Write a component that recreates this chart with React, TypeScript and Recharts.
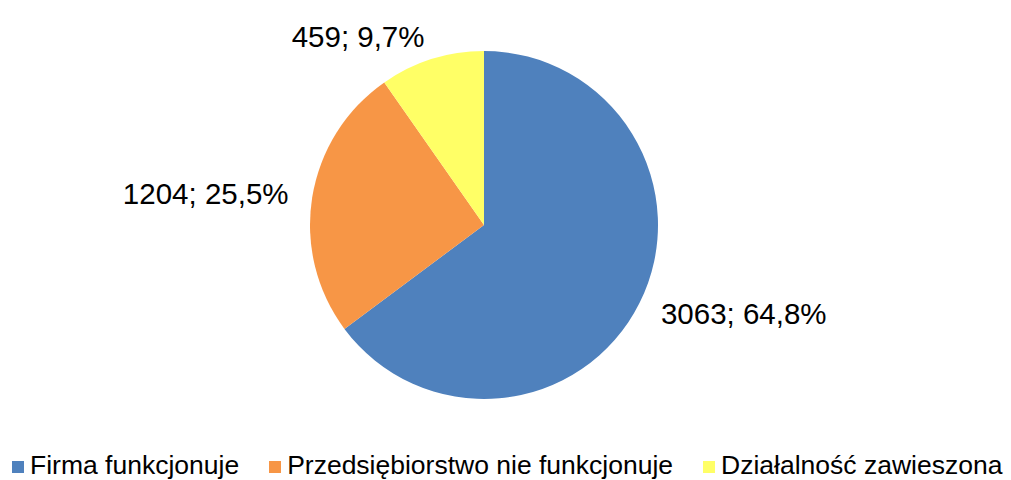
import { PieChart, Pie, Cell, Legend } from 'recharts';

const categories = ['Firma funkcjonuje', 'Przedsiębiorstwo nie funkcjonuje', 'Działalność zawieszona'];
const counts = [3063, 1204, 459];
const percents = ['64,8%', '25,5%', '9,7%'];
const colors = ['#4F81BD', '#F79646', '#FFFF66'];

const data = categories.map((name, i) => ({ name, value: counts[i], pct: percents[i] }));

const RADIAN = Math.PI / 180;
const FONT = '"Liberation Sans", Arial, sans-serif';

const renderLabel = (props: any) => {
  const { cx, cy, midAngle, outerRadius, index } = props;
  const r = outerRadius + 24;
  const cos = Math.cos(-midAngle * RADIAN);
  const sin = Math.sin(-midAngle * RADIAN);
  const x = cx + r * cos;
  const y = cy + r * sin;
  return (
    <text
      x={x}
      y={y}
      textAnchor={cos >= 0 ? 'start' : 'end'}
      dominantBaseline="central"
      fill="#000"
      fontSize={29.5}
      fontFamily={FONT}
    >
      {`${counts[index]}; ${percents[index]}`}
    </text>
  );
};

const renderLegend = () => (
  <div style={{ display: 'flex', alignItems: 'center', fontFamily: FONT, fontSize: 26.5, color: '#000', paddingLeft: 12, whiteSpace: 'nowrap', lineHeight: '30px' }}>
    {categories.map((c, i) => (
      <div key={c} style={{ display: 'flex', alignItems: 'center', marginRight: 30 }}>
        <span style={{ display: 'inline-block', width: 12, height: 12, background: colors[i], marginRight: 6, marginTop: 4 }} />
        <span>{c}</span>
      </div>
    ))}
  </div>
);

export default function App() {
  return (
    <div style={{ position: 'absolute', left: 0, top: 0, width: 1011, height: 480, background: '#fff' }}>
      <PieChart width={1011} height={480} margin={{ top: 0, right: 0, bottom: 0, left: 0 }}>
        <Pie
          data={data}
          dataKey="value"
          nameKey="name"
          cx={484}
          cy={225}
          outerRadius={174}
          startAngle={90}
          endAngle={-270}
          stroke="none"
          label={renderLabel}
          labelLine={false}
          isAnimationActive={false}
        >
          {data.map((d, i) => (
            <Cell key={d.name} fill={colors[i]} />
          ))}
        </Pie>
        <Legend content={renderLegend} wrapperStyle={{ top: 450, left: 0, width: 1011, height: 30 }} />
      </PieChart>
    </div>
  );
}
